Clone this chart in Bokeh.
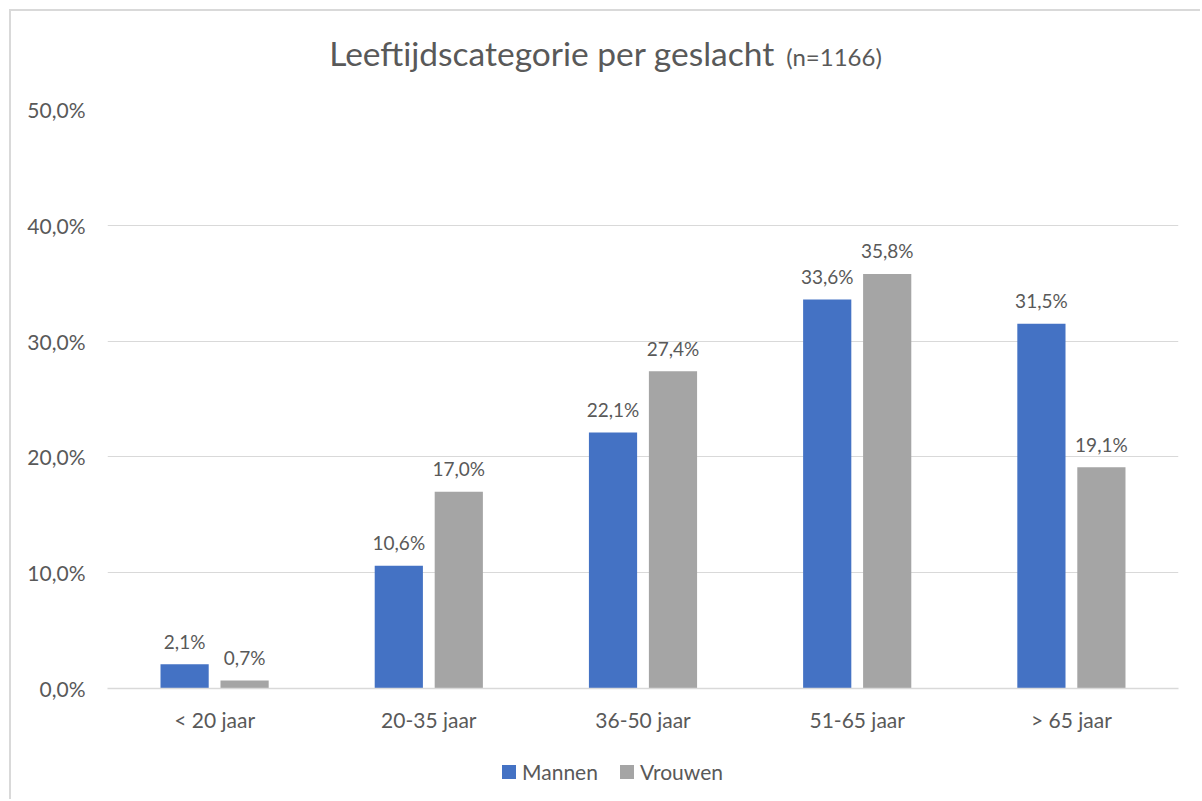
from bokeh.plotting import figure
from bokeh.models import ColumnDataSource, FactorRange, CustomJSTickFormatter, FixedTicker, Div
from bokeh.layouts import column
from bokeh.transform import dodge
from bokeh.core.properties import value
from bokeh.embed import file_html
from bokeh.resources import INLINE

categories = ["< 20 jaar", "20-35 jaar", "36-50 jaar", "51-65 jaar", "> 65 jaar"]
mannen = [2.1, 10.6, 22.1, 33.6, 31.5]
vrouwen = [0.7, 17.0, 27.4, 35.8, 19.1]
y_ticks = [0, 10, 20, 30, 40, 50]
series_names = ["Mannen", "Vrouwen"]

FONT = "Lato"
TXT = "#595959"
BLUE = "#4472c4"
GRAY = "#a5a5a5"
W = 1189

src = ColumnDataSource(dict(
    cat=categories, m=mannen, v=vrouwen,
    ml=[f"{x:.1f}%".replace(".", ",") for x in mannen],
    vl=[f"{x:.1f}%".replace(".", ",") for x in vrouwen],
))

title_div = Div(
    text=(f'<div style="width:{W}px;box-sizing:border-box;padding-top:22px;'
          f'text-align:center;font-family:{FONT};color:{TXT};line-height:1.2;white-space:nowrap;">'
          '<span style="font-size:33.5px;">Leeftijdscategorie per geslacht</span>'
          '<span style="font-size:24px;margin-left:12px;">(n=1166)</span></div>'),
    width=W, height=62, margin=0)

p = figure(width=W, height=672, x_range=FactorRange(*categories), y_range=(0, 50),
           output_backend="svg", toolbar_location=None, margin=0,
           min_border_left=96, min_border_right=22, min_border_top=36, min_border_bottom=57)
p.outline_line_color = None
p.background_fill_color = "white"
p.border_fill_color = "white"

p.vbar(x=dodge("cat", -0.14, range=p.x_range), top="m", width=0.225, source=src,
       color=BLUE, line_color=None)
p.vbar(x=dodge("cat", 0.14, range=p.x_range), top="v", width=0.225, source=src,
       color=GRAY, line_color=None)

p.text(x=dodge("cat", -0.14, range=p.x_range), y="m", text="ml", source=src,
       text_align="center", text_baseline="alphabetic", y_offset=-23,
       text_font=value(FONT), text_font_size="19px", text_color=TXT)
p.text(x=dodge("cat", 0.14, range=p.x_range), y="v", text="vl", source=src,
       text_align="center", text_baseline="alphabetic", y_offset=-23,
       text_font=value(FONT), text_font_size="19px", text_color=TXT)

p.yaxis.ticker = FixedTicker(ticks=y_ticks)
p.yaxis.formatter = CustomJSTickFormatter(code="return tick.toFixed(1).replace('.', ',') + '%';")
p.yaxis.axis_line_color = None
p.yaxis.major_tick_line_color = None
p.yaxis.minor_tick_line_color = None
p.yaxis.major_label_text_font = FONT
p.yaxis.major_label_text_font_size = "21px"
p.yaxis.major_label_text_color = TXT
p.yaxis.major_label_standoff = 16

p.xaxis.axis_line_color = "#d9d9d9"
p.xaxis.axis_line_width = 1.5
p.xaxis.major_tick_line_color = None
p.xaxis.minor_tick_line_color = None
p.xaxis.major_label_text_font = FONT
p.xaxis.major_label_text_font_size = "21px"
p.xaxis.major_label_text_color = TXT
p.xaxis.major_label_standoff = 12

p.xgrid.grid_line_color = None
p.ygrid.grid_line_color = "#d9d9d9"
p.ygrid.grid_line_width = 1

sq = 'display:inline-block;width:14px;height:14px;margin-right:6px;'
legend_div = Div(
    text=(f'<div style="width:{W}px;height:54px;box-sizing:border-box;padding-left:14px;'
          f'display:flex;justify-content:center;align-items:center;'
          f'font-family:{FONT};font-size:21px;color:{TXT};white-space:nowrap;">'
          f'<span style="{sq}background:{BLUE};"></span><span>{series_names[0]}</span>'
          f'<span style="{sq}background:{GRAY};margin-left:22px;"></span><span>{series_names[1]}</span>'
          '</div>'),
    width=W, height=54, margin=0)

layout = column(title_div, p, legend_div, spacing=0,
                styles={"margin-left": "9px", "margin-top": "9px",
                        "border-left": "2px solid #d9d9d9", "border-top": "2px solid #d9d9d9",
                        "background-color": "white"})

open("out.html", "w").write(file_html(layout, INLINE))
